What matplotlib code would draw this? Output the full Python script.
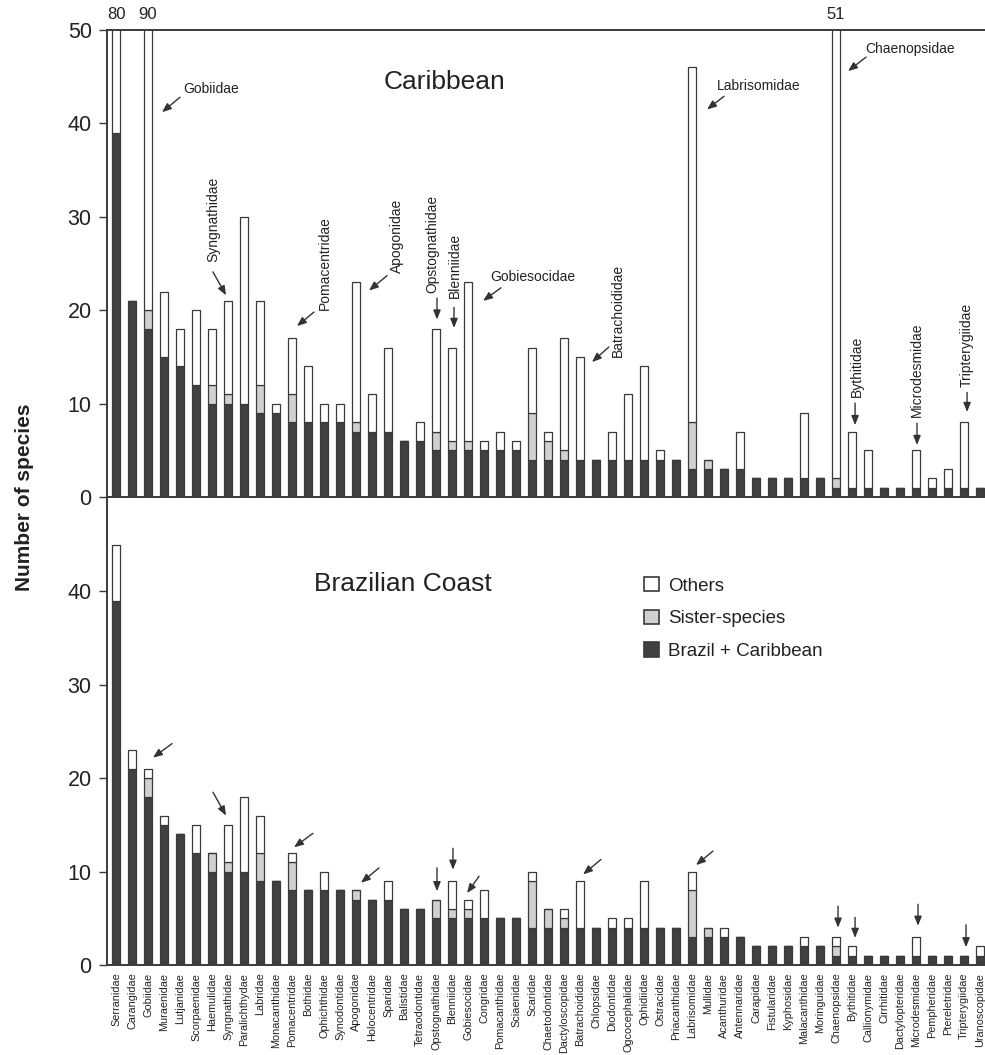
import numpy as np
import matplotlib
matplotlib.use("Agg")
import matplotlib.pyplot as plt
from matplotlib.patches import Patch

plt.rcParams['font.family'] = ['Liberation Sans', 'DejaVu Sans']

families = ['Serranidae', 'Carangidae', 'Gobiidae', 'Muraenidae', 'Lutjanidae',
            'Scorpaenidae', 'Haemulidae', 'Syngnathidae', 'Paralichthydae', 'Labridae',
            'Monacanthidae', 'Pomacentridae', 'Bothidae', 'Ophichthidae', 'Synodontidae',
            'Apogonidae', 'Holocentridae', 'Sparidae', 'Balistidae', 'Tetraodontidae',
            'Opstognathidae', 'Blenniidae', 'Gobiesocidae', 'Congridae', 'Pomacanthidae',
            'Sciaenidae', 'Scaridae', 'Chaetodontidae', 'Dactyloscopidae', 'Batrachoididae',
            'Chlopsidae', 'Diodontidae', 'Ogcocephalidae', 'Ophidiidae', 'Ostracidae',
            'Priacanthidae', 'Labrisomidae', 'Mullidae', 'Acanthuridae', 'Antennaridae',
            'Carapidae', 'Fistularidae', 'Kyphosidae', 'Malacanthidae', 'Moringuidae',
            'Chaenopsidae', 'Bythitidae', 'Callionymidae', 'Cirrhitidae', 'Dactylopteridae',
            'Microdesmidae', 'Pempheridae', 'Ptereletridae', 'Tripterygiidae', 'Uranoscopidae']

# species shared by Brazil + Caribbean (same in both panels)
shared = [39, 21, 18, 15, 14, 12, 10, 10, 10, 9,
          9, 8, 8, 8, 8, 7, 7, 7, 6, 6,
          5, 5, 5, 5, 5, 5, 4, 4, 4, 4,
          4, 4, 4, 4, 4, 4, 3, 3, 3, 3,
          2, 2, 2, 2, 2, 1, 1, 1, 1, 1,
          1, 1, 1, 1, 1]
sister = [0, 0, 2, 0, 0, 0, 2, 1, 0, 3,
          0, 3, 0, 0, 0, 1, 0, 0, 0, 0,
          2, 1, 1, 0, 0, 0, 5, 2, 1, 0,
          0, 0, 0, 0, 0, 0, 5, 1, 0, 0,
          0, 0, 0, 0, 0, 1, 0, 0, 0, 0,
          0, 0, 0, 0, 0]
others_carib = [41, 0, 70, 7, 4, 8, 6, 10, 20, 9,
                1, 6, 6, 2, 2, 15, 4, 9, 0, 2,
                11, 10, 17, 1, 2, 1, 7, 1, 12, 11,
                0, 3, 7, 10, 1, 0, 38, 0, 0, 4,
                0, 0, 0, 7, 0, 49, 6, 4, 0, 0,
                4, 1, 2, 7, 0]
others_brazil = [6, 2, 1, 1, 0, 3, 0, 4, 8, 4,
                 0, 1, 0, 2, 0, 0, 0, 2, 0, 0,
                 0, 3, 1, 3, 0, 0, 1, 0, 1, 5,
                 0, 1, 1, 5, 0, 0, 2, 0, 1, 0,
                 0, 0, 0, 1, 0, 1, 1, 0, 0, 0,
                 2, 0, 0, 0, 1]

# annotations: name, arrow tip (x, y), arrow tail (x, y), text (x, y), rotation
carib_notes = [
    ('Gobiidae', 2.875, 41.2, 4.0, 42.8, 4.19, 43.7, 0),
    ('Syngnathidae', 6.875, 21.6, 6.06, 24.1, 6.06, 25.2, 90),
    ('Pomacentridae', 11.31, 18.3, 12.375, 19.8, 13.06, 20.0, 90),
    ('Apogonidae', 15.81, 22.1, 16.94, 23.7, 17.56, 24.0, 90),
    ('Opstognathidae', 20.06, 19.0, 20.06, 21.3, 19.8, 21.8, 90),
    ('Blenniidae', 21.125, 18.1, 21.125, 20.3, 21.2, 21.3, 90),
    ('Gobiesocidae', 22.94, 21.0, 24.06, 22.4, 23.375, 23.55, 0),
    ('Batrachoididae', 29.75, 14.45, 30.8, 16.06, 31.375, 15.0, 90),
    ('Labrisomidae', 36.94, 41.5, 38.0, 42.9, 37.56, 44.0, 0),
    ('Chaenopsidae', 45.75, 45.6, 46.875, 47.1, 46.8, 48.0, 0),
    ('Bythitidae', 46.19, 7.7, 46.19, 10.06, 46.3, 10.7, 90),
    ('Microdesmidae', 50.06, 5.57, 50.06, 7.9, 50.06, 8.57, 90),
    ('Tripterygiidae', 53.19, 9.1, 53.19, 11.2, 53.19, 11.8, 90),
]
brazil_arrows = [
    (2.31, 22.2, 3.5, 23.7),
    (6.875, 16.0, 6.06, 18.5),
    (11.125, 12.6, 12.31, 14.1),
    (15.31, 8.8, 16.44, 10.4),
    (20.06, 7.9, 20.06, 10.4),
    (21.06, 10.2, 21.06, 12.5),
    (21.94, 7.7, 22.69, 9.5),
    (29.19, 9.7, 30.31, 11.3),
    (36.25, 10.7, 37.31, 12.2),
    (45.125, 4.0, 45.125, 6.3),
    (46.19, 2.9, 46.19, 5.1),
    (50.125, 4.2, 50.125, 6.5),
    (53.125, 1.9, 53.125, 4.3),
]

DARK = '#404040'
GREY = '#d0d0d0'
EDGE = '#3a3a3a'
ink = '#222222'

x = np.arange(len(families))
shared = np.array(shared)
sister = np.array(sister)

fig = plt.figure(figsize=(9.85, 10.55), dpi=100)
left, right = 107 / 985, 1.0
ax1 = fig.add_axes([left, 1 - 497 / 1055, right - left, 467 / 1055])
ax2 = fig.add_axes([left, 1 - 965 / 1055, right - left, 467 / 1055])

arrow_kw = dict(arrowstyle='-|>,head_length=0.55,head_width=0.22', color='#333333',
                lw=1.0, shrinkA=0, shrinkB=0)


def draw_panel(ax, others):
    others = np.array(others)
    bw = 0.5
    ax.bar(x, shared, bw, color=DARK, edgecolor=EDGE, linewidth=0.9)
    ax.bar(x, sister, bw, bottom=shared, color=GREY, edgecolor=EDGE, linewidth=0.9)
    ax.bar(x, others, bw, bottom=shared + sister, color='white', edgecolor=EDGE, linewidth=0.9)
    ax.set_xlim(-0.5625, 54.31)
    ax.set_ylim(0, 50)
    for s in ['left', 'bottom', 'top']:
        ax.spines[s].set_color(EDGE)
        ax.spines[s].set_linewidth(1.4)
    ax.spines['right'].set_visible(False)
    ax.tick_params(axis='y', direction='out', length=6, width=1, color=EDGE,
                   labelsize=15.5, labelcolor=ink, pad=5)
    return shared + sister + others


totals_c = draw_panel(ax1, others_carib)
ax1.set_yticks([0, 10, 20, 30, 40, 50])
ax1.set_xticks([])
for i, t in enumerate(totals_c):
    if t > 50:
        ax1.text(i, 50.9, str(t), ha='center', va='bottom', fontsize=12, color=ink,
                 clip_on=False)
ax1.text(20.5, 44.4, 'Caribbean', fontsize=19, ha='center', va='center', color=ink)
for name, tx, ty, sx, sy, lx, ly, rot in carib_notes:
    ax1.annotate('', xy=(tx, ty), xytext=(sx, sy), arrowprops=arrow_kw)
    if rot == 0:
        ax1.text(lx, ly, name, fontsize=10, ha='left', va='center', color=ink)
    else:
        ax1.text(lx, ly, name, fontsize=10, ha='center', va='bottom', rotation=90,
                 color=ink)

draw_panel(ax2, others_brazil)
ax2.spines['top'].set_visible(False)
ax2.set_yticks([0, 10, 20, 30, 40])
ax2.set_xticks(x)
ax2.set_xticklabels(families, rotation=90, fontsize=7.8, color=ink)
ax2.tick_params(axis='x', length=0, pad=5.5)
ax2.text(17.94, 40.8, 'Brazilian Coast', fontsize=19, ha='center', va='center', color=ink)
for tx, ty, sx, sy in brazil_arrows:
    ax2.annotate('', xy=(tx, ty), xytext=(sx, sy), arrowprops=arrow_kw)

handles = [Patch(facecolor='white', edgecolor=EDGE, linewidth=1.2),
           Patch(facecolor=GREY, edgecolor=EDGE, linewidth=1.2),
           Patch(facecolor=DARK, edgecolor=EDGE, linewidth=1.2)]
ax2.legend(handles, ['Others', 'Sister-species', 'Brazil + Caribbean'],
           loc='upper left', bbox_to_anchor=(0.603, 0.847), frameon=False,
           fontsize=13.5, handlelength=0.8, handleheight=0.8, handletextpad=0.5,
           labelspacing=0.8, borderaxespad=0, labelcolor=ink)

fig.text(0.025, 1 - 497 / 1055, 'Number of species', rotation=90, fontsize=15,
         fontweight='bold', ha='center', va='center', color=ink)

fig.savefig('out.png', dpi=100)
